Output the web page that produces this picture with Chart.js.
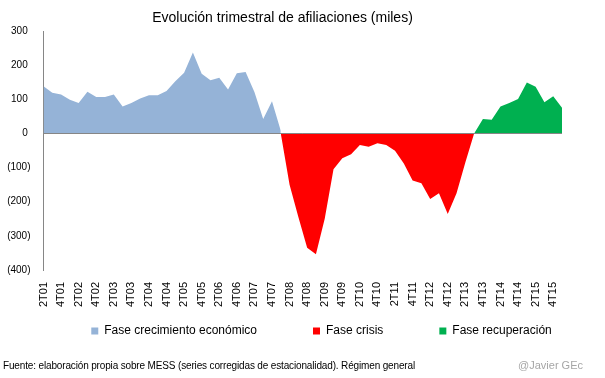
<!DOCTYPE html>
<html>
<head>
<meta charset="utf-8">
<script src="https://cdn.jsdelivr.net/npm/chart.js@4"></script>
<style>
html,body{margin:0;padding:0;background:#fff}
#wrap{position:relative;width:605px;height:378px;font-family:"Liberation Sans",Arial,sans-serif;color:#000}
#title{position:absolute;left:-20px;width:605px;top:9px;text-align:center;font-size:14px}
#source{position:absolute;left:3px;top:360px;font-size:10px;letter-spacing:-0.15px}
#author{position:absolute;right:22px;top:359px;font-size:11px;color:#a6a6a6}
canvas{position:absolute;left:0;top:0}
</style>
</head>
<body>
<div id="wrap">
<canvas id="chart" width="605" height="378"></canvas>
<div id="title">Evolución trimestral de afiliaciones (miles)</div>
<div id="source">Fuente: elaboración propia sobre MESS (series corregidas de estacionalidad). Régimen general</div>
<div id="author">@Javier GEc</div>
</div>
<script>
const quarters = [
"2T01","3T01","4T01",
"1T02","2T02","3T02","4T02",
"1T03","2T03","3T03","4T03",
"1T04","2T04","3T04","4T04",
"1T05","2T05","3T05","4T05",
"1T06","2T06","3T06","4T06",
"1T07","2T07","3T07","4T07",
"1T08","2T08","3T08","4T08",
"1T09","2T09","3T09","4T09",
"1T10","2T10","3T10","4T10",
"1T11","2T11","3T11","4T11",
"1T12","2T12","3T12","4T12",
"1T13","2T13","3T13","4T13",
"1T14","2T14","3T14","4T14",
"1T15","2T15","3T15","4T15",
"1T16"
]

// 2T01 .. 1T07
const crecimiento = [138,119,114,99,89,122,107,107,114,79,89,102,112,112,124,153,178,237,175,156,163,129,176,180,121,42,94,8]
// 1T07 .. 3T12
const crisis = [0,-150,-245,-335,-354,-250,-105,-73,-61,-34,-39,-29,-34,-51,-88,-138,-146,-192,-175,-236,-175,-85,0]
// 3T12 .. 1T16
const recuperacion = [0,42,40,79,89,101,149,137,91,109,75]

const yTicks = [300,200,100,0,-100,-200,-300,-400]

function place(values, start){
const out = quarters.map(() => null)
values.forEach((v,i) => { out[start+i] = v })
return out
}

const zeroLine = {
id:"zeroLine",
afterDatasetsDraw(chart){
const {ctx, chartArea, scales} = chart
const py = Math.round(scales.y.getPixelForValue(0)) + 0.5
ctx.save()
ctx.strokeStyle = "#868686"
ctx.lineWidth = 1
ctx.beginPath()
ctx.moveTo(chartArea.left, py)
ctx.lineTo(chartArea.right, py)
ctx.stroke()
ctx.restore()
}
}

// legend sits closer to the axis labels and a bit right of centre, like the original
const legendPlace = {
id:"legendPlace",
afterLayout(chart){
const lg = chart.legend
lg.top = 269
lg.bottom = 350
lg.left += 19
lg.right += 19
}
}

const font = "'Liberation Sans', Arial, sans-serif"

new Chart(document.getElementById("chart"),{
type:"line",
data:{
labels:quarters,
datasets:[
{label:"Fase crecimiento económico", data:place(crecimiento,0), backgroundColor:"#95b3d7", borderColor:"#95b3d7", fill:"origin"},
{label:"Fase crisis", data:place(crisis,27), backgroundColor:"#ff0000", borderColor:"#ff0000", fill:"origin"},
{label:"Fase recuperación", data:place(recuperacion,49), backgroundColor:"#00b050", borderColor:"#00b050", fill:"origin"}
]
},
options:{
responsive:false,
animation:false,
layout:{padding:{left:0,right:0,top:31,bottom:28}},
elements:{point:{radius:0}, line:{tension:0, borderWidth:0}},
plugins:{
tooltip:{enabled:false},
legend:{
position:"bottom",
maxHeight:20,
labels:{boxWidth:7, boxHeight:7, padding:56, color:"#000", font:{family:font, size:12}}
}
},
scales:{
x:{
grid:{display:false, drawTicks:false},
border:{display:false},
ticks:{
autoSkip:false, minRotation:90, maxRotation:90, padding:12, color:"#000",
font:{family:font, size:11},
callback(v,i){ return i % 2 === 0 ? this.getLabelForValue(v) : "" }
},
afterFit(s){ s.height = 60 }
},
y:{
min:-400, max:300,
afterBuildTicks(s){ s.ticks = yTicks.map(v => ({value:v})) },
grid:{display:false, drawTicks:false},
border:{color:"#868686"},
ticks:{
padding:13, color:"#000", font:{family:font, size:10},
callback(v){ return v < 0 ? "(" + (-v) + ")" : v + " " }
},
afterFit(s){ s.width = 43.5 }
},
y2:{
position:"right",
grid:{display:false},
border:{display:false},
ticks:{display:false},
afterFit(s){ s.width = 43 }
}
}
},
plugins:[zeroLine, legendPlace]
})
</script>
</body>
</html>
